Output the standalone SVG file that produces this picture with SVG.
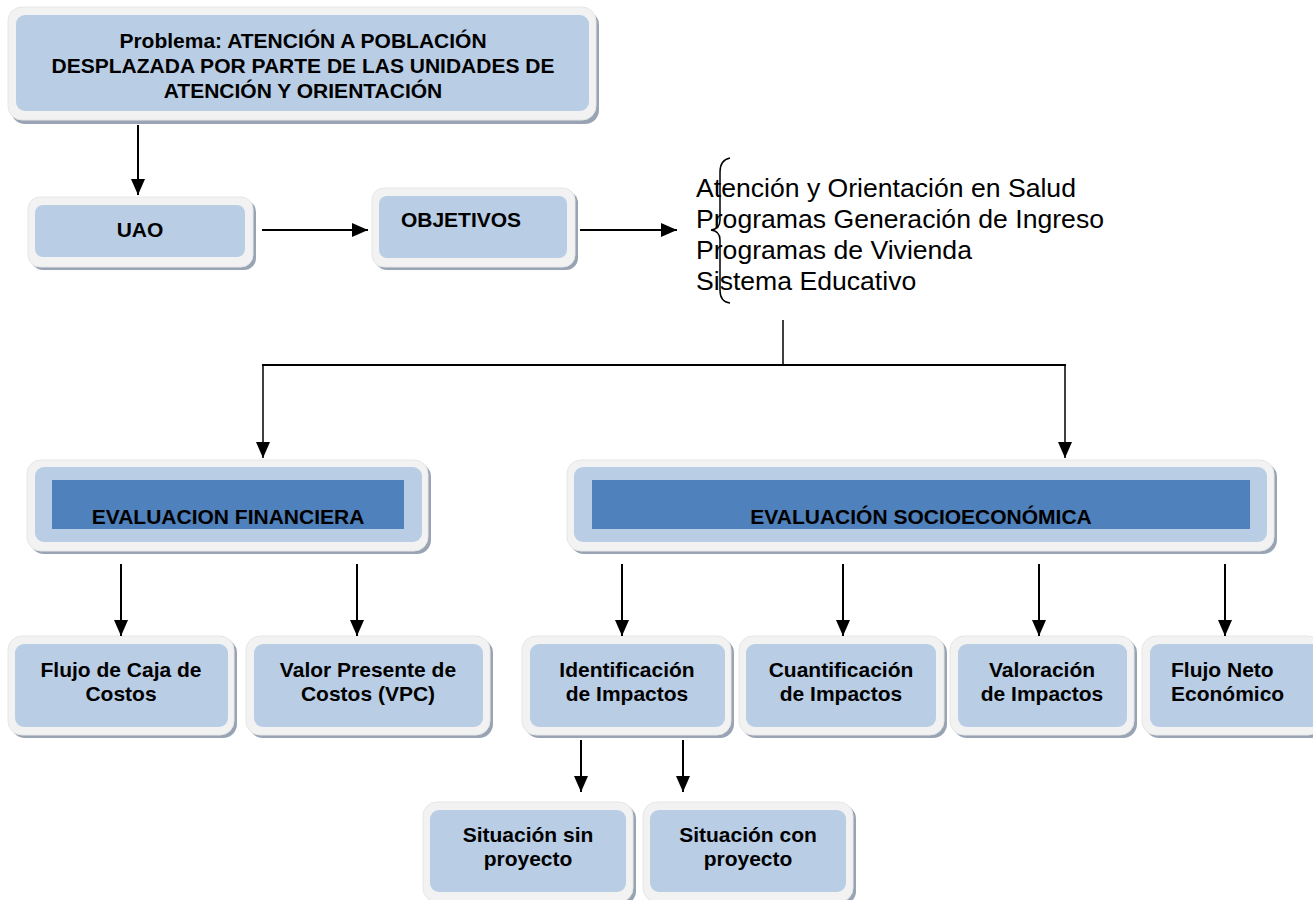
<svg xmlns="http://www.w3.org/2000/svg" width="1313" height="900" viewBox="0 0 1313 900">
<defs>
<style>
.sh{fill:#98a3b4}
.out{fill:#f2f2f2;stroke:#e6e6e6;stroke-width:1}
.in{fill:#b9cde5}
.dk{fill:#4f81bd}
.t{font-family:"Liberation Sans",Arial,sans-serif;font-weight:bold;font-size:21px;fill:#000;text-anchor:middle}
.lt{font-family:"Liberation Sans",Arial,sans-serif;font-size:26.6px;fill:#000}
.c{stroke:#000;stroke-width:2;fill:none}
.c1{stroke:#000;stroke-width:1.5;fill:none}
</style>
<marker id="ah" markerUnits="userSpaceOnUse" markerWidth="16" markerHeight="14" refX="16" refY="7" orient="auto">
<path d="M0,0 L16,7 L0,14 z" fill="#000"/>
</marker>
</defs>
<rect width="1313" height="900" fill="#fff"/>

<g id="problema">
<rect class="sh" x="11" y="11" width="588" height="113" rx="14"/>
<rect class="out" x="8" y="7" width="588" height="113" rx="14"/>
<rect class="in" x="16" y="15" width="573" height="96" rx="9"/>
<text class="t" x="303" y="48">Problema: ATENCIÓN A POBLACIÓN</text>
<text class="t" x="303" y="73">DESPLAZADA POR PARTE DE LAS UNIDADES DE</text>
<text class="t" x="303" y="98">ATENCIÓN Y ORIENTACIÓN</text>
</g>

<g id="uao">
<rect class="sh" x="31" y="200" width="225" height="70" rx="12"/>
<rect class="out" x="28" y="197" width="225" height="70" rx="12"/>
<rect class="in" x="35" y="205" width="210" height="52" rx="8"/>
<text class="t" x="140" y="237">UAO</text>
</g>

<g id="objetivos">
<rect class="sh" x="375" y="191" width="203" height="79" rx="12"/>
<rect class="out" x="372" y="188" width="203" height="79" rx="12"/>
<rect class="in" x="379" y="196" width="188" height="62" rx="8"/>
<text class="t" x="461" y="227">OBJETIVOS</text>
</g>

<g id="lista">
<path class="c1" d="M730,158 Q720,160 720,172 L720,220 Q720,229 711,230 Q720,231 720,240 L720,290 Q720,302 730,303"/>
<text class="lt" x="696" y="197">Atención y Orientación en Salud</text>
<text class="lt" x="696" y="228">Programas Generación de Ingreso</text>
<text class="lt" x="696" y="259">Programas de Vivienda</text>
<text class="lt" x="696" y="290">Sistema Educativo</text>
</g>

<g id="eval-fin">
<rect class="sh" x="30" y="463" width="401" height="91" rx="14"/>
<rect class="out" x="27" y="460" width="401" height="91" rx="14"/>
<rect class="in" x="35" y="467" width="387" height="75" rx="9"/>
<rect class="dk" x="52" y="480" width="352" height="49"/>
<text class="t" x="228" y="524">EVALUACION FINANCIERA</text>
</g>

<g id="eval-soc">
<rect class="sh" x="570" y="463" width="707" height="91" rx="14"/>
<rect class="out" x="567" y="460" width="707" height="91" rx="14"/>
<rect class="in" x="574" y="467" width="693" height="75" rx="9"/>
<rect class="dk" x="592" y="480" width="658" height="49"/>
<text class="t" x="921" y="524">EVALUACIÓN SOCIOECONÓMICA</text>
</g>

<g id="flujo-caja">
<rect class="sh" x="11" y="639" width="226" height="99" rx="14"/>
<rect class="out" x="8" y="636" width="226" height="99" rx="14"/>
<rect class="in" x="15" y="644" width="213" height="83" rx="9"/>
<text class="t" x="121" y="677">Flujo de Caja de</text>
<text class="t" x="121" y="701">Costos</text>
</g>

<g id="vpc">
<rect class="sh" x="249" y="639" width="244" height="99" rx="14"/>
<rect class="out" x="246" y="636" width="244" height="99" rx="14"/>
<rect class="in" x="254" y="644" width="229" height="83" rx="9"/>
<text class="t" x="368" y="677">Valor Presente de</text>
<text class="t" x="368" y="701">Costos (VPC)</text>
</g>

<g id="identificacion">
<rect class="sh" x="525" y="639" width="209" height="99" rx="14"/>
<rect class="out" x="522" y="636" width="209" height="99" rx="14"/>
<rect class="in" x="530" y="644" width="195" height="83" rx="9"/>
<text class="t" x="627" y="677">Identificación</text>
<text class="t" x="627" y="701">de Impactos</text>
</g>

<g id="cuantificacion">
<rect class="sh" x="742" y="639" width="205" height="99" rx="14"/>
<rect class="out" x="739" y="636" width="205" height="99" rx="14"/>
<rect class="in" x="746" y="644" width="190" height="83" rx="9"/>
<text class="t" x="841" y="677">Cuantificación</text>
<text class="t" x="841" y="701">de Impactos</text>
</g>

<g id="valoracion">
<rect class="sh" x="953" y="639" width="184" height="99" rx="14"/>
<rect class="out" x="950" y="636" width="184" height="99" rx="14"/>
<rect class="in" x="958" y="644" width="169" height="83" rx="9"/>
<text class="t" x="1042" y="677">Valoración</text>
<text class="t" x="1042" y="701">de Impactos</text>
</g>

<g id="flujo-neto">
<rect class="sh" x="1145" y="639" width="180" height="99" rx="14"/>
<rect class="out" x="1142" y="636" width="180" height="99" rx="14"/>
<rect class="in" x="1150" y="644" width="170" height="83" rx="9"/>
<text class="t" x="1171" y="677" style="text-anchor:start">Flujo Neto</text>
<text class="t" x="1171" y="701" style="text-anchor:start">Económico</text>
</g>

<g id="sin-proyecto">
<rect class="sh" x="426" y="805" width="210" height="100" rx="14"/>
<rect class="out" x="423" y="802" width="210" height="100" rx="14"/>
<rect class="in" x="430" y="810" width="196" height="82" rx="9"/>
<text class="t" x="528" y="842">Situación sin</text>
<text class="t" x="528" y="866">proyecto</text>
</g>

<g id="con-proyecto">
<rect class="sh" x="646" y="805" width="210" height="100" rx="14"/>
<rect class="out" x="643" y="802" width="210" height="100" rx="14"/>
<rect class="in" x="650" y="810" width="196" height="82" rx="9"/>
<text class="t" x="748" y="842">Situación con</text>
<text class="t" x="748" y="866">proyecto</text>
</g>

<g id="connectors">
<line class="c" x1="138" y1="125" x2="138" y2="195" marker-end="url(#ah)"/>
<line class="c" x1="262" y1="230" x2="368" y2="230" marker-end="url(#ah)"/>
<line class="c" x1="580" y1="230" x2="677" y2="230" marker-end="url(#ah)"/>
<line class="c1" x1="783" y1="320" x2="783" y2="365"/>
<line class="c" x1="262" y1="365" x2="1066" y2="365"/>
<line class="c1" x1="263" y1="365" x2="263" y2="458" marker-end="url(#ah)"/>
<line class="c1" x1="1065" y1="365" x2="1065" y2="458" marker-end="url(#ah)"/>
<line class="c" x1="121" y1="564" x2="121" y2="636" marker-end="url(#ah)"/>
<line class="c" x1="357" y1="564" x2="357" y2="636" marker-end="url(#ah)"/>
<line class="c" x1="622" y1="564" x2="622" y2="636" marker-end="url(#ah)"/>
<line class="c" x1="843" y1="564" x2="843" y2="636" marker-end="url(#ah)"/>
<line class="c" x1="1039" y1="564" x2="1039" y2="636" marker-end="url(#ah)"/>
<line class="c" x1="1225" y1="564" x2="1225" y2="636" marker-end="url(#ah)"/>
<line class="c" x1="581" y1="740" x2="581" y2="792" marker-end="url(#ah)"/>
<line class="c" x1="683" y1="740" x2="683" y2="792" marker-end="url(#ah)"/>
</g>
</svg>
